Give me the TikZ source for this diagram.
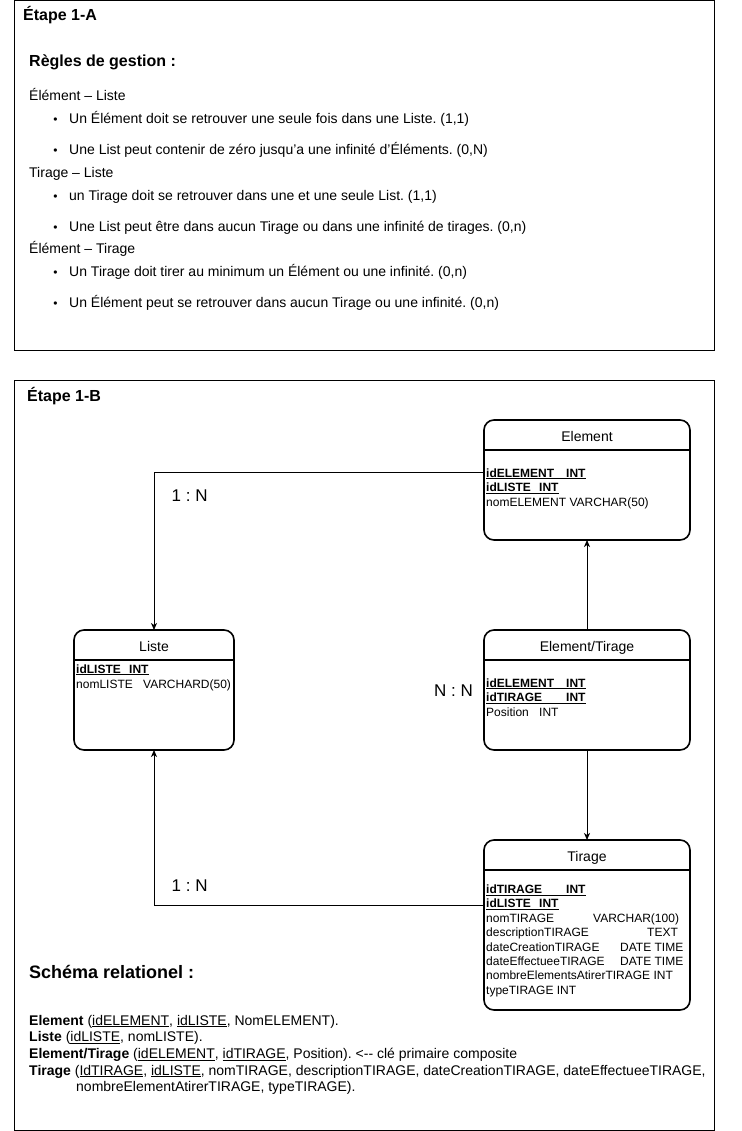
\documentclass[tikz,border=0pt]{standalone}
\usepackage{fontspec}
\setmainfont{Liberation Sans}
\usetikzlibrary{arrows.meta}
\frenchspacing
\begin{document}
\begin{tikzpicture}[x=1pt,y=-1pt,
  frame/.style={draw, line width=1pt},
  entity/.style={draw, line width=1.6pt, rounded corners=10pt, outer sep=0pt, inner sep=0pt},
  hdr/.style={line width=1.6pt},
  conn/.style={line width=1pt, -{Stealth[length=7pt,width=6pt,inset=2pt]}},
  txt/.style={anchor=base west, inner sep=0pt, font=\fontsize{14}{16.8}\selectfont\frenchspacing},
  bul/.style={anchor=base, inner sep=0pt, font=\fontsize{12}{13}\selectfont},
  stage/.style={anchor=base west, inner sep=0pt, font=\fontsize{16}{19}\selectfont\bfseries},
  bigb/.style={anchor=base west, inner sep=0pt, font=\fontsize{18}{21}\selectfont\bfseries},
  ttl/.style={anchor=base, inner sep=0pt, font=\fontsize{14}{16.8}\selectfont},
  attr/.style={anchor=base west, inner sep=0pt, font=\fontsize{12}{14.4}\selectfont},
  card/.style={anchor=base west, inner sep=0pt, font=\fontsize{17}{20}\selectfont\frenchspacing}
]
\useasboundingbox (0,0) rectangle (741,1131);

% ---------- Etape 1-A ----------
\draw[frame] (14,0.5) rectangle (714,350);
\node[stage] (s1) at (23,21) {Étape 1-A};
\node[stage] (rg) at (29,67) {Règles de gestion :};

\node[txt] (h1) at (29,101) {Élément – Liste};
\node[bul] (b1) at (55.5,124) {•};
\node[txt] (r1) at (69,124) {Un Élément doit se retrouver une seule fois dans une Liste. (1,1)};
\node[bul] (b2) at (55.5,155) {•};
\node[txt] (r2) at (69,155) {Une List peut contenir de zéro jusqu’a une infinité d’Éléments. (0,N)};

\node[txt] (h2) at (29,178) {Tirage – Liste};
\node[bul] (b3) at (55.5,201) {•};
\node[txt] (r3) at (69,201) {un Tirage doit se retrouver dans une et une seule List. (1,1)};
\node[bul] (b4) at (55.5,232) {•};
\node[txt] (r4) at (69,232) {Une List peut être dans aucun Tirage ou dans une infinité de tirages. (0,n)};

\node[txt] (h3) at (29,254) {Élément – Tirage};
\node[bul] (b5) at (55.5,277) {•};
\node[txt] (r5) at (69,277) {Un Tirage doit tirer au minimum un Élément ou une infinité. (0,n)};
\node[bul] (b6) at (55.5,308) {•};
\node[txt] (r6) at (69,308) {Un Élément peut se retrouver dans aucun Tirage ou une infinité. (0,n)};

% ---------- Etape 1-B ----------
\draw[frame] (14,380.5) rectangle (714,1130);
\node[stage] (s2) at (27,401) {Étape 1-B};

% Element
\node[entity, anchor=north west, minimum width=206pt, minimum height=120pt] (element) at (484,420) {};
\draw[hdr] ([yshift=-30pt]element.north west) -- ([yshift=-30pt]element.north east);
\node[ttl] (elementT) at (587,441) {Element};
\node[attr] (eA1) at (486,477) {\underline{\textbf{\makebox[80pt][l]{idELEMENT}INT}}};
\node[attr] (eA2) at (486,491.5) {\underline{\textbf{\makebox[53pt][l]{idLISTE}INT}}};
\node[attr] (eA3) at (486,506) {nomELEMENT VARCHAR(50)};

% Liste
\node[entity, anchor=north west, minimum width=160pt, minimum height=120pt] (liste) at (74,630) {};
\draw[hdr] ([yshift=-30pt]liste.north west) -- ([yshift=-30pt]liste.north east);
\node[ttl] (listeT) at (154,651) {Liste};
\node[attr] (lA1) at (76,673) {\underline{\textbf{\makebox[53pt][l]{idLISTE}INT}}};
\node[attr] (lA2) at (76,688) {\makebox[67pt][l]{nomLISTE}VARCHARD(50)};

% Element/Tirage
\node[entity, anchor=north west, minimum width=206pt, minimum height=120pt] (et) at (484,630) {};
\draw[hdr] ([yshift=-30pt]et.north west) -- ([yshift=-30pt]et.north east);
\node[ttl] (etT) at (587,651) {Element/Tirage};
\node[attr] (etA1) at (486,687) {\underline{\textbf{\makebox[80pt][l]{idELEMENT}INT}}};
\node[attr] (etA2) at (486,701.5) {\underline{\textbf{\makebox[80pt][l]{idTIRAGE}INT}}};
\node[attr] (etA3) at (486,716) {\makebox[53pt][l]{Position}INT};

% Tirage
\node[entity, anchor=north west, minimum width=206pt, minimum height=170pt] (tirage) at (484,840) {};
\draw[hdr] ([yshift=-30pt]tirage.north west) -- ([yshift=-30pt]tirage.north east);
\node[ttl] (tirageT) at (587,861) {Tirage};
\node[attr] (tA1) at (486,893.5) {\underline{\textbf{\makebox[80pt][l]{idTIRAGE}INT}}};
\node[attr] (tA2) at (486,907.9) {\underline{\textbf{\makebox[53pt][l]{idLISTE}INT}}};
\node[attr] (tA3) at (486,922.3) {\makebox[107pt][l]{nomTIRAGE}VARCHAR(100)};
\node[attr] (tA4) at (486,936.7) {\makebox[161pt][l]{descriptionTIRAGE}TEXT};
\node[attr] (tA5) at (486,951.1) {\makebox[134pt][l]{dateCreationTIRAGE}DATE TIME};
\node[attr] (tA6) at (486,965.5) {\makebox[134pt][l]{dateEffectueeTIRAGE}DATE TIME};
\node[attr] (tA7) at (486,979.9) {nombreElementsAtirerTIRAGE INT};
\node[attr] (tA8) at (486,994.3) {typeTIRAGE INT};

% connectors
\draw[conn] ([yshift=8pt]element.west) -| (liste.north);
\draw[conn] ([yshift=20pt]tirage.west) -| (liste.south);
\draw[conn] (et.north) -- (element.south);
\draw[conn] (et.south) -- (tirage.north);

\node[card] (c1) at (171.5,501) {1 : N};
\node[card] (c2) at (171.5,891) {1 : N};
\node[card] (c3) at (434,696) {N : N};

% Schema relationel
\node[bigb] (sr) at (29,978) {Schéma relationel :};
\node[txt] (s1l) at (29,1025) {\textbf{Element} (\underline{idELEMENT}, \underline{idLISTE}, NomELEMENT).};
\node[txt] (s2l) at (29,1041.7) {\textbf{Liste} (\underline{idLISTE}, nomLISTE).};
\node[txt] (s3l) at (29,1058.3) {\textbf{Element/Tirage} (\underline{idELEMENT}, \underline{idTIRAGE}, Position). <-{}- clé primaire composite};
\node[txt] (s4l) at (29,1075) {\textbf{Tirage} (\underline{IdTIRAGE}, \underline{idLISTE}, nomTIRAGE, descriptionTIRAGE, dateCreationTIRAGE, dateEffectueeTIRAGE,};
\node[txt] (s5l) at (76,1091.7) {nombreElementAtirerTIRAGE, typeTIRAGE).};
\end{tikzpicture}
\end{document}
